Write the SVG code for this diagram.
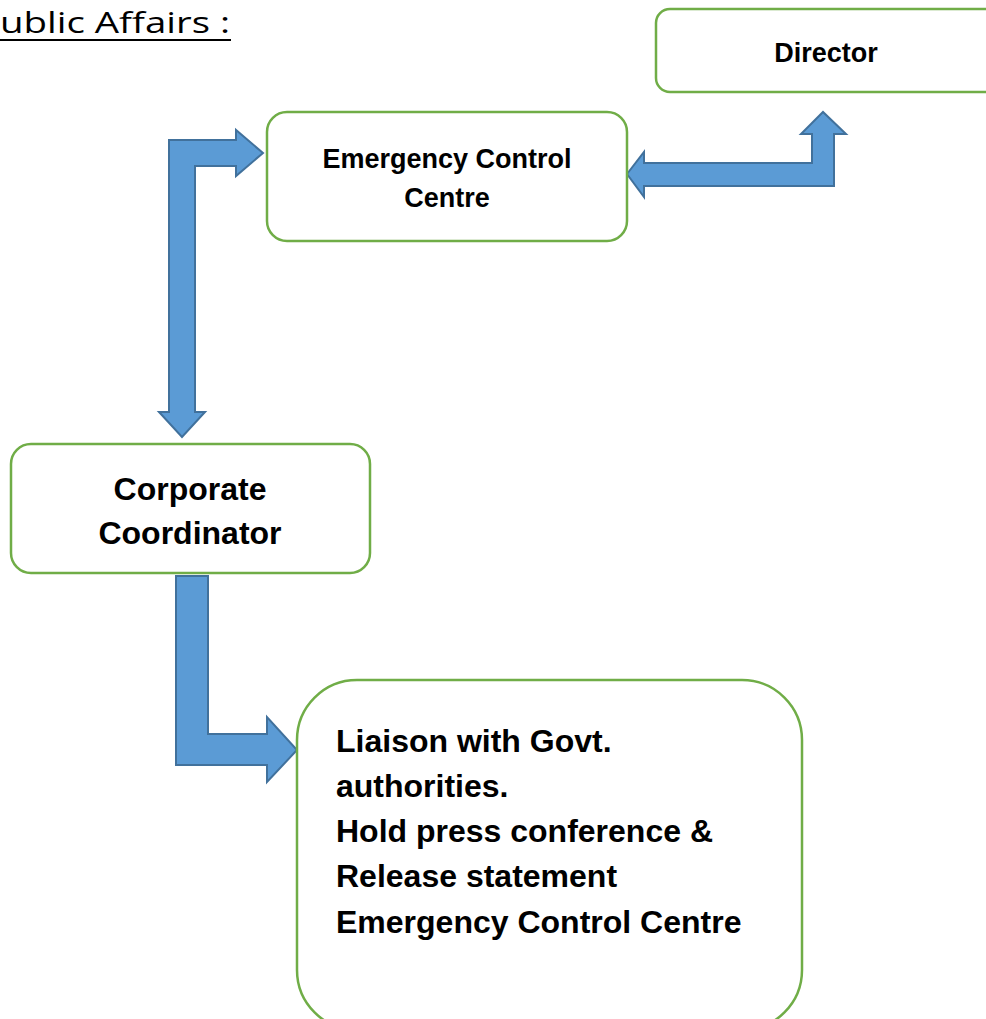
<svg xmlns="http://www.w3.org/2000/svg" width="986" height="1019" viewBox="0 0 986 1019">
<style>
.box{fill:#FFFFFF;stroke:#70AD47;stroke-width:2.5}
.arrow{fill:#5B9BD5;stroke:#41719C;stroke-width:2;stroke-linejoin:miter}
.lbl{font-family:"Liberation Sans",Arial,sans-serif;font-weight:bold;fill:#000000}
.title{font-family:"Open Sans","Liberation Sans",sans-serif;font-size:30px;fill:#000000}
</style>
<rect width="986" height="1019" fill="#FFFFFF"/>
<g id="title">
<text class="title" x="0" y="33" textLength="230" lengthAdjust="spacingAndGlyphs">ublic Affairs :</text>
<line x1="0" y1="40" x2="231" y2="40" stroke="#000000" stroke-width="2"/>
</g>
<g id="connectors">
<path class="arrow" d="M169,412 L169,140 L236,140 L236,130 L263,153 L236,176 L236,166 L195,166 L195,412 L205,412 L182,437 L159,412 Z"/>
<path class="arrow" d="M627,174 L644,152 L644,163 L812,163 L812,134 L801,134 L823,112 L846,134 L834,134 L834,186 L644,186 L644,197 Z"/>
<path class="arrow" d="M176,576 L208,576 L208,734 L267,734 L267,717 L297,750 L267,782 L267,765 L176,765 Z"/>
</g>
<g id="director">
<rect class="box" x="656" y="9" width="345" height="83" rx="14"/>
<text class="lbl" x="826" y="62" font-size="27" text-anchor="middle">Director</text>
</g>
<g id="ecc">
<rect class="box" x="267" y="112" width="360" height="129" rx="20"/>
<text class="lbl" x="447" y="168" font-size="27" text-anchor="middle">Emergency Control</text>
<text class="lbl" x="447" y="207" font-size="27" text-anchor="middle">Centre</text>
</g>
<g id="corporate">
<rect class="box" x="11" y="444" width="359" height="129" rx="20"/>
<text class="lbl" x="190" y="500" font-size="32" text-anchor="middle">Corporate</text>
<text class="lbl" x="190" y="544" font-size="32" text-anchor="middle">Coordinator</text>
</g>
<g id="liaison">
<rect class="box" x="297" y="680" width="505" height="350" rx="60"/>
<text class="lbl" x="336" y="752" font-size="32">Liaison with Govt.</text>
<text class="lbl" x="336" y="797" font-size="32">authorities.</text>
<text class="lbl" x="336" y="842" font-size="32">Hold press conference &amp;</text>
<text class="lbl" x="336" y="887" font-size="32">Release statement</text>
<text class="lbl" x="336" y="933" font-size="32">Emergency Control Centre</text>
</g>
</svg>
